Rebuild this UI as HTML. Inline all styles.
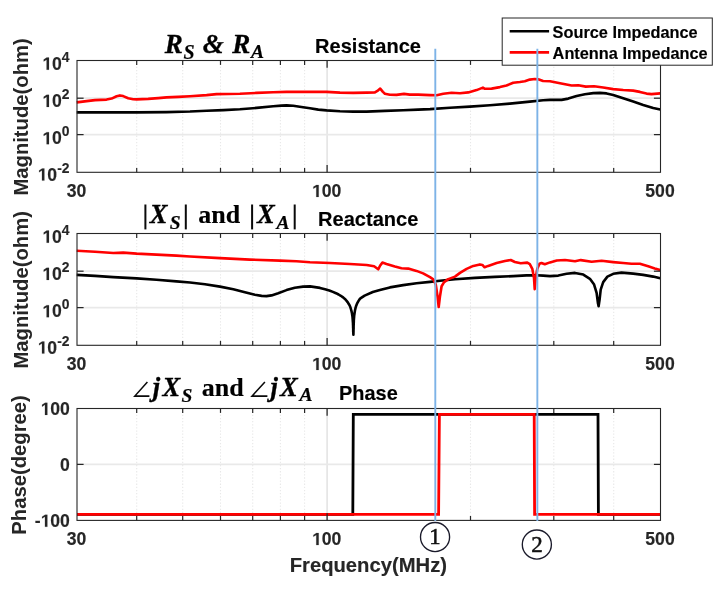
<!DOCTYPE html>
<html><head><meta charset="utf-8"><title>Impedance plot</title>
<style>
html,body{margin:0;padding:0;background:#fff;}
body{width:722px;height:589px;overflow:hidden;font-family:"Liberation Sans",sans-serif;}
svg{display:block;position:absolute;left:0;top:0;will-change:transform;}
text{font-family:"Liberation Sans",sans-serif;font-weight:bold;fill:#262626;stroke:#262626;stroke-width:0.15px;}
.ser{font-family:"Liberation Serif",serif;font-weight:bold;font-style:italic;fill:#000;}
.serb{font-family:"Liberation Serif",serif;font-weight:bold;font-style:normal;fill:#000;}
.num{font-family:"Liberation Serif",serif;font-weight:normal;fill:#111;stroke:#111;}
.ttl{fill:#000;stroke:#000;}
</style></head><body>
<svg width="722" height="589" viewBox="0 0 722 589">
<rect width="722" height="589" fill="#fff"/>

<line x1="136.7" y1="60.5" x2="136.7" y2="172.3" stroke="#e8e8e8" stroke-width="1.1" stroke-dasharray="1.3 1.83"/>
<line x1="182.7" y1="60.5" x2="182.7" y2="172.3" stroke="#e8e8e8" stroke-width="1.1" stroke-dasharray="1.3 1.83"/>
<line x1="220.5" y1="60.5" x2="220.5" y2="172.3" stroke="#e8e8e8" stroke-width="1.1" stroke-dasharray="1.3 1.83"/>
<line x1="252.7" y1="60.5" x2="252.7" y2="172.3" stroke="#e8e8e8" stroke-width="1.1" stroke-dasharray="1.3 1.83"/>
<line x1="280.4" y1="60.5" x2="280.4" y2="172.3" stroke="#e8e8e8" stroke-width="1.1" stroke-dasharray="1.3 1.83"/>
<line x1="304.6" y1="60.5" x2="304.6" y2="172.3" stroke="#e8e8e8" stroke-width="1.1" stroke-dasharray="1.3 1.83"/>
<line x1="470.5" y1="60.5" x2="470.5" y2="172.3" stroke="#e8e8e8" stroke-width="1.1" stroke-dasharray="1.3 1.83"/>
<line x1="553.8" y1="60.5" x2="553.8" y2="172.3" stroke="#e8e8e8" stroke-width="1.1" stroke-dasharray="1.3 1.83"/>
<line x1="613.7" y1="60.5" x2="613.7" y2="172.3" stroke="#e8e8e8" stroke-width="1.1" stroke-dasharray="1.3 1.83"/>
<line x1="327.1" y1="60.5" x2="327.1" y2="172.3" stroke="#e4e4e4" stroke-width="1.6"/>
<line x1="77.0" y1="98.2" x2="660.5" y2="98.2" stroke="#e9e9e9" stroke-width="1.7"/>
<line x1="77.0" y1="134.6" x2="660.5" y2="134.6" stroke="#e9e9e9" stroke-width="1.7"/>
<line x1="136.7" y1="233.5" x2="136.7" y2="345.3" stroke="#e8e8e8" stroke-width="1.1" stroke-dasharray="1.3 1.83"/>
<line x1="182.7" y1="233.5" x2="182.7" y2="345.3" stroke="#e8e8e8" stroke-width="1.1" stroke-dasharray="1.3 1.83"/>
<line x1="220.5" y1="233.5" x2="220.5" y2="345.3" stroke="#e8e8e8" stroke-width="1.1" stroke-dasharray="1.3 1.83"/>
<line x1="252.7" y1="233.5" x2="252.7" y2="345.3" stroke="#e8e8e8" stroke-width="1.1" stroke-dasharray="1.3 1.83"/>
<line x1="280.4" y1="233.5" x2="280.4" y2="345.3" stroke="#e8e8e8" stroke-width="1.1" stroke-dasharray="1.3 1.83"/>
<line x1="304.6" y1="233.5" x2="304.6" y2="345.3" stroke="#e8e8e8" stroke-width="1.1" stroke-dasharray="1.3 1.83"/>
<line x1="470.5" y1="233.5" x2="470.5" y2="345.3" stroke="#e8e8e8" stroke-width="1.1" stroke-dasharray="1.3 1.83"/>
<line x1="553.8" y1="233.5" x2="553.8" y2="345.3" stroke="#e8e8e8" stroke-width="1.1" stroke-dasharray="1.3 1.83"/>
<line x1="613.7" y1="233.5" x2="613.7" y2="345.3" stroke="#e8e8e8" stroke-width="1.1" stroke-dasharray="1.3 1.83"/>
<line x1="327.1" y1="233.5" x2="327.1" y2="345.3" stroke="#e4e4e4" stroke-width="1.6"/>
<line x1="77.0" y1="271.2" x2="660.5" y2="271.2" stroke="#e9e9e9" stroke-width="1.7"/>
<line x1="77.0" y1="307.6" x2="660.5" y2="307.6" stroke="#e9e9e9" stroke-width="1.7"/>
<line x1="136.7" y1="408.5" x2="136.7" y2="520.4" stroke="#e8e8e8" stroke-width="1.1" stroke-dasharray="1.3 1.83"/>
<line x1="182.7" y1="408.5" x2="182.7" y2="520.4" stroke="#e8e8e8" stroke-width="1.1" stroke-dasharray="1.3 1.83"/>
<line x1="220.5" y1="408.5" x2="220.5" y2="520.4" stroke="#e8e8e8" stroke-width="1.1" stroke-dasharray="1.3 1.83"/>
<line x1="252.7" y1="408.5" x2="252.7" y2="520.4" stroke="#e8e8e8" stroke-width="1.1" stroke-dasharray="1.3 1.83"/>
<line x1="280.4" y1="408.5" x2="280.4" y2="520.4" stroke="#e8e8e8" stroke-width="1.1" stroke-dasharray="1.3 1.83"/>
<line x1="304.6" y1="408.5" x2="304.6" y2="520.4" stroke="#e8e8e8" stroke-width="1.1" stroke-dasharray="1.3 1.83"/>
<line x1="470.5" y1="408.5" x2="470.5" y2="520.4" stroke="#e8e8e8" stroke-width="1.1" stroke-dasharray="1.3 1.83"/>
<line x1="553.8" y1="408.5" x2="553.8" y2="520.4" stroke="#e8e8e8" stroke-width="1.1" stroke-dasharray="1.3 1.83"/>
<line x1="613.7" y1="408.5" x2="613.7" y2="520.4" stroke="#e8e8e8" stroke-width="1.1" stroke-dasharray="1.3 1.83"/>
<line x1="327.1" y1="408.5" x2="327.1" y2="520.4" stroke="#e4e4e4" stroke-width="1.6"/>
<line x1="77.0" y1="464.4" x2="660.5" y2="464.4" stroke="#e9e9e9" stroke-width="1.7"/>
<polyline points="76.7,112.4 136.6,112.4 166.5,112.1 190.0,111.5 206.6,110.7 223.3,110.1 239.9,109.3 256.6,107.9 273.2,106.3 281.5,105.6 286.5,105.4 293.2,105.8 303.1,107.3 310.0,108.3 318.3,109.6 326.6,110.4 340.0,111.2 353.3,111.6 366.6,111.6 384.9,110.9 403.2,110.2 418.1,109.6 430.0,109.1 450.0,107.8 469.9,106.6 489.9,105.3 509.9,103.6 529.8,101.6 543.1,100.3 550.0,99.9 561.6,99.9 568.3,98.6 576.6,96.1 584.9,94.3 593.3,93.1 599.9,92.9 606.6,93.4 613.2,94.9 623.2,98.3 633.2,101.6 643.2,104.9 653.2,107.9 660.2,109.4" fill="none" stroke="#000000" stroke-width="2.6" stroke-linejoin="round" stroke-linecap="butt"/>
<polyline points="76.7,102.4 86.6,101.1 95.0,100.1 106.6,99.6 111.6,98.6 116.6,96.3 119.9,95.4 123.2,96.1 128.2,98.3 133.2,99.3 136.6,99.4 148.2,98.9 158.2,98.1 166.5,97.4 178.2,96.9 190.0,96.3 206.6,95.1 216.6,94.1 239.9,93.8 256.6,92.9 273.2,92.3 286.5,91.9 298.2,91.9 310.0,91.9 326.6,91.9 340.0,92.6 353.3,92.9 366.6,92.6 374.9,92.4 377.4,90.9 380.2,88.6 382.9,91.9 384.9,93.8 389.9,94.8 396.5,94.9 404.0,93.9 409.8,94.6 418.1,94.6 430.0,95.1 436.7,95.3 443.3,93.8 451.6,92.8 460.0,93.3 468.3,92.4 476.6,90.1 482.9,87.6 484.9,88.8 491.6,88.6 499.9,87.1 506.5,85.5 513.2,82.8 519.9,82.0 524.8,81.3 529.8,79.6 534.8,79.0 538.2,79.3 543.1,81.0 550.0,81.3 560.0,83.3 571.6,85.5 578.3,85.3 585.8,86.6 594.1,86.3 603.2,87.5 613.2,89.1 623.2,90.0 633.2,90.6 639.9,91.9 646.5,93.6 651.5,94.1 660.2,93.4" fill="none" stroke="#ff0000" stroke-width="2.6" stroke-linejoin="round" stroke-linecap="butt"/>
<polyline points="76.7,274.9 95.0,275.9 113.3,277.1 136.6,278.4 156.5,279.8 176.5,281.4 190.0,282.5 205.0,284.2 220.0,286.6 233.3,289.2 244.9,292.2 254.9,294.7 261.6,295.9 266.5,296.1 271.5,295.4 278.2,293.2 286.5,290.1 294.8,287.7 303.1,286.6 310.0,286.4 320.0,287.9 325.0,289.2 329.3,290.5 332.9,291.9 336.0,293.2 338.6,294.5 340.8,295.8 342.7,297.1 344.3,298.4 345.7,299.7 346.8,301.1 347.8,302.4 348.6,303.7 349.4,305.0 350.0,306.3 350.5,307.6 350.9,309.0 351.3,310.3 351.6,311.6 351.9,312.9 352.1,314.2 352.3,315.5 352.5,316.8 352.6,318.2 352.7,319.5 352.8,320.8 352.9,322.1 353.0,323.4 353.0,324.7 353.1,326.0 353.1,327.4 353.2,328.7 353.2,330.0 353.2,331.3 353.3,332.6 353.4,334.8 353.5,331.3 353.5,330.0 353.6,328.7 353.6,327.3 353.6,326.0 353.7,324.7 353.7,323.4 353.8,322.1 353.8,320.8 353.9,319.5 354.0,318.1 354.1,316.8 354.2,315.5 354.4,314.2 354.6,312.9 354.8,311.6 355.0,310.3 355.3,308.9 355.6,307.6 356.0,306.3 356.5,305.0 357.0,303.7 357.7,302.4 358.4,301.1 359.3,299.7 360.4,298.4 364.6,295.6 372.8,292.0 379.9,290.0 389.9,287.4 403.2,285.1 416.5,283.2 430.0,281.9 440.0,280.8 455.0,279.3 474.9,277.9 494.9,276.9 513.2,276.1 526.5,275.4 536.5,275.3 543.1,275.6 550.0,276.1 558.3,275.6 566.6,273.8 575.0,272.9 583.3,274.6 589.9,278.8 594.1,284.6 596.6,292.9 597.9,302.9 598.6,306.2 599.6,299.6 600.7,289.6 603.2,282.1 607.4,276.6 613.2,273.8 621.5,272.6 633.2,273.6 643.2,274.9 653.2,276.6 660.2,278.3" fill="none" stroke="#000000" stroke-width="2.6" stroke-linejoin="round" stroke-linecap="butt"/>
<polyline points="76.7,250.8 95.0,251.8 113.3,253.0 123.2,252.6 136.6,253.6 156.5,254.6 176.5,255.6 190.0,256.5 220.0,258.1 249.9,259.6 279.9,260.6 296.5,261.3 310.0,262.2 330.0,263.0 349.9,264.0 366.6,265.0 374.1,266.3 378.2,269.3 380.2,265.5 382.4,262.6 386.5,264.0 394.9,266.6 401.5,268.3 408.2,268.6 416.5,270.9 423.1,273.4 430.0,277.2 433.3,279.3 435.8,284.6 437.5,296.2 438.7,307.0 440.0,296.2 441.6,286.2 444.1,282.1 448.3,279.1 455.0,276.6 460.0,272.9 466.6,268.9 473.3,265.9 479.9,264.4 482.4,264.9 484.6,267.3 488.2,265.9 496.6,263.1 504.9,261.0 510.7,260.0 514.9,262.0 520.7,263.3 527.3,262.6 529.8,264.1 532.3,268.8 534.0,277.9 534.7,289.2 535.7,277.9 537.3,268.8 539.5,263.8 541.5,263.0 544.8,264.3 550.0,262.4 556.7,260.5 565.0,260.0 575.0,261.3 580.8,260.1 591.6,261.8 601.6,260.8 613.2,262.1 623.2,263.0 631.5,263.8 639.9,263.8 648.2,266.3 654.8,268.4 660.2,269.9" fill="none" stroke="#ff0000" stroke-width="2.6" stroke-linejoin="round" stroke-linecap="butt"/>
<polyline points="77.0,514.4 352.8,514.4 353.3,414.4 598.0,414.4 598.4,514.4 660.5,514.4" fill="none" stroke="#000000" stroke-width="2.8" stroke-linejoin="miter"/>
<polyline points="77.0,514.4 438.6,514.4 439.4,414.4 534.2,414.4 534.6,514.4 660.5,514.4" fill="none" stroke="#ff0000" stroke-width="2.8" stroke-linejoin="miter"/>
<rect x="77.0" y="60.5" width="583.5" height="111.8" fill="none" stroke="#262626" stroke-width="1.1"/>
<line x1="136.7" y1="60.5" x2="136.7" y2="64.9" stroke="#262626" stroke-width="1.2"/>
<line x1="136.7" y1="172.3" x2="136.7" y2="167.9" stroke="#262626" stroke-width="1.2"/>
<line x1="182.7" y1="60.5" x2="182.7" y2="64.9" stroke="#262626" stroke-width="1.2"/>
<line x1="182.7" y1="172.3" x2="182.7" y2="167.9" stroke="#262626" stroke-width="1.2"/>
<line x1="220.5" y1="60.5" x2="220.5" y2="64.9" stroke="#262626" stroke-width="1.2"/>
<line x1="220.5" y1="172.3" x2="220.5" y2="167.9" stroke="#262626" stroke-width="1.2"/>
<line x1="252.7" y1="60.5" x2="252.7" y2="64.9" stroke="#262626" stroke-width="1.2"/>
<line x1="252.7" y1="172.3" x2="252.7" y2="167.9" stroke="#262626" stroke-width="1.2"/>
<line x1="280.4" y1="60.5" x2="280.4" y2="64.9" stroke="#262626" stroke-width="1.2"/>
<line x1="280.4" y1="172.3" x2="280.4" y2="167.9" stroke="#262626" stroke-width="1.2"/>
<line x1="304.6" y1="60.5" x2="304.6" y2="64.9" stroke="#262626" stroke-width="1.2"/>
<line x1="304.6" y1="172.3" x2="304.6" y2="167.9" stroke="#262626" stroke-width="1.2"/>
<line x1="470.5" y1="60.5" x2="470.5" y2="64.9" stroke="#262626" stroke-width="1.2"/>
<line x1="470.5" y1="172.3" x2="470.5" y2="167.9" stroke="#262626" stroke-width="1.2"/>
<line x1="553.8" y1="60.5" x2="553.8" y2="64.9" stroke="#262626" stroke-width="1.2"/>
<line x1="553.8" y1="172.3" x2="553.8" y2="167.9" stroke="#262626" stroke-width="1.2"/>
<line x1="613.7" y1="60.5" x2="613.7" y2="64.9" stroke="#262626" stroke-width="1.2"/>
<line x1="613.7" y1="172.3" x2="613.7" y2="167.9" stroke="#262626" stroke-width="1.2"/>
<line x1="327.1" y1="60.5" x2="327.1" y2="67.7" stroke="#262626" stroke-width="1.25"/>
<line x1="327.1" y1="172.3" x2="327.1" y2="165.1" stroke="#262626" stroke-width="1.25"/>
<line x1="77.0" y1="98.2" x2="83.6" y2="98.2" stroke="#262626" stroke-width="1.25"/>
<line x1="660.5" y1="98.2" x2="653.9" y2="98.2" stroke="#262626" stroke-width="1.25"/>
<line x1="77.0" y1="134.6" x2="83.6" y2="134.6" stroke="#262626" stroke-width="1.25"/>
<line x1="660.5" y1="134.6" x2="653.9" y2="134.6" stroke="#262626" stroke-width="1.25"/>
<rect x="77.0" y="233.5" width="583.5" height="111.8" fill="none" stroke="#262626" stroke-width="1.1"/>
<line x1="136.7" y1="233.5" x2="136.7" y2="237.9" stroke="#262626" stroke-width="1.2"/>
<line x1="136.7" y1="345.3" x2="136.7" y2="340.9" stroke="#262626" stroke-width="1.2"/>
<line x1="182.7" y1="233.5" x2="182.7" y2="237.9" stroke="#262626" stroke-width="1.2"/>
<line x1="182.7" y1="345.3" x2="182.7" y2="340.9" stroke="#262626" stroke-width="1.2"/>
<line x1="220.5" y1="233.5" x2="220.5" y2="237.9" stroke="#262626" stroke-width="1.2"/>
<line x1="220.5" y1="345.3" x2="220.5" y2="340.9" stroke="#262626" stroke-width="1.2"/>
<line x1="252.7" y1="233.5" x2="252.7" y2="237.9" stroke="#262626" stroke-width="1.2"/>
<line x1="252.7" y1="345.3" x2="252.7" y2="340.9" stroke="#262626" stroke-width="1.2"/>
<line x1="280.4" y1="233.5" x2="280.4" y2="237.9" stroke="#262626" stroke-width="1.2"/>
<line x1="280.4" y1="345.3" x2="280.4" y2="340.9" stroke="#262626" stroke-width="1.2"/>
<line x1="304.6" y1="233.5" x2="304.6" y2="237.9" stroke="#262626" stroke-width="1.2"/>
<line x1="304.6" y1="345.3" x2="304.6" y2="340.9" stroke="#262626" stroke-width="1.2"/>
<line x1="470.5" y1="233.5" x2="470.5" y2="237.9" stroke="#262626" stroke-width="1.2"/>
<line x1="470.5" y1="345.3" x2="470.5" y2="340.9" stroke="#262626" stroke-width="1.2"/>
<line x1="553.8" y1="233.5" x2="553.8" y2="237.9" stroke="#262626" stroke-width="1.2"/>
<line x1="553.8" y1="345.3" x2="553.8" y2="340.9" stroke="#262626" stroke-width="1.2"/>
<line x1="613.7" y1="233.5" x2="613.7" y2="237.9" stroke="#262626" stroke-width="1.2"/>
<line x1="613.7" y1="345.3" x2="613.7" y2="340.9" stroke="#262626" stroke-width="1.2"/>
<line x1="327.1" y1="233.5" x2="327.1" y2="240.7" stroke="#262626" stroke-width="1.25"/>
<line x1="327.1" y1="345.3" x2="327.1" y2="338.1" stroke="#262626" stroke-width="1.25"/>
<line x1="77.0" y1="271.2" x2="83.6" y2="271.2" stroke="#262626" stroke-width="1.25"/>
<line x1="660.5" y1="271.2" x2="653.9" y2="271.2" stroke="#262626" stroke-width="1.25"/>
<line x1="77.0" y1="307.6" x2="83.6" y2="307.6" stroke="#262626" stroke-width="1.25"/>
<line x1="660.5" y1="307.6" x2="653.9" y2="307.6" stroke="#262626" stroke-width="1.25"/>
<rect x="77.0" y="408.5" width="583.5" height="111.9" fill="none" stroke="#262626" stroke-width="1.1"/>
<line x1="136.7" y1="408.5" x2="136.7" y2="412.9" stroke="#262626" stroke-width="1.2"/>
<line x1="136.7" y1="520.4" x2="136.7" y2="516.0" stroke="#262626" stroke-width="1.2"/>
<line x1="182.7" y1="408.5" x2="182.7" y2="412.9" stroke="#262626" stroke-width="1.2"/>
<line x1="182.7" y1="520.4" x2="182.7" y2="516.0" stroke="#262626" stroke-width="1.2"/>
<line x1="220.5" y1="408.5" x2="220.5" y2="412.9" stroke="#262626" stroke-width="1.2"/>
<line x1="220.5" y1="520.4" x2="220.5" y2="516.0" stroke="#262626" stroke-width="1.2"/>
<line x1="252.7" y1="408.5" x2="252.7" y2="412.9" stroke="#262626" stroke-width="1.2"/>
<line x1="252.7" y1="520.4" x2="252.7" y2="516.0" stroke="#262626" stroke-width="1.2"/>
<line x1="280.4" y1="408.5" x2="280.4" y2="412.9" stroke="#262626" stroke-width="1.2"/>
<line x1="280.4" y1="520.4" x2="280.4" y2="516.0" stroke="#262626" stroke-width="1.2"/>
<line x1="304.6" y1="408.5" x2="304.6" y2="412.9" stroke="#262626" stroke-width="1.2"/>
<line x1="304.6" y1="520.4" x2="304.6" y2="516.0" stroke="#262626" stroke-width="1.2"/>
<line x1="470.5" y1="408.5" x2="470.5" y2="412.9" stroke="#262626" stroke-width="1.2"/>
<line x1="470.5" y1="520.4" x2="470.5" y2="516.0" stroke="#262626" stroke-width="1.2"/>
<line x1="553.8" y1="408.5" x2="553.8" y2="412.9" stroke="#262626" stroke-width="1.2"/>
<line x1="553.8" y1="520.4" x2="553.8" y2="516.0" stroke="#262626" stroke-width="1.2"/>
<line x1="613.7" y1="408.5" x2="613.7" y2="412.9" stroke="#262626" stroke-width="1.2"/>
<line x1="613.7" y1="520.4" x2="613.7" y2="516.0" stroke="#262626" stroke-width="1.2"/>
<line x1="327.1" y1="408.5" x2="327.1" y2="415.7" stroke="#262626" stroke-width="1.25"/>
<line x1="327.1" y1="520.4" x2="327.1" y2="513.2" stroke="#262626" stroke-width="1.25"/>
<line x1="77.0" y1="464.4" x2="83.6" y2="464.4" stroke="#262626" stroke-width="1.25"/>
<line x1="660.5" y1="464.4" x2="653.9" y2="464.4" stroke="#262626" stroke-width="1.25"/>
<path transform="translate(42.49,69.70) scale(0.00859,-0.00859)" d="M478 0V1170L140 959V1180L493 1409H759V0Z" fill="#262626" stroke="#262626" stroke-width="17.5"/><text x="51.98" y="69.70" font-size="17.6" style="fill:#262626;stroke:#262626">0</text>
<text x="61.77" y="61.80" font-size="13.9" style="fill:#262626;stroke:#262626">4</text>
<path transform="translate(42.49,106.97) scale(0.00859,-0.00859)" d="M478 0V1170L140 959V1180L493 1409H759V0Z" fill="#262626" stroke="#262626" stroke-width="17.5"/><text x="51.98" y="106.97" font-size="17.6" style="fill:#262626;stroke:#262626">0</text>
<text x="61.77" y="99.07" font-size="13.9" style="fill:#262626;stroke:#262626">2</text>
<path transform="translate(42.49,144.23) scale(0.00859,-0.00859)" d="M478 0V1170L140 959V1180L493 1409H759V0Z" fill="#262626" stroke="#262626" stroke-width="17.5"/><text x="51.98" y="144.23" font-size="17.6" style="fill:#262626;stroke:#262626">0</text>
<text x="61.77" y="136.33" font-size="13.9" style="fill:#262626;stroke:#262626">0</text>
<path transform="translate(37.86,180.60) scale(0.00859,-0.00859)" d="M478 0V1170L140 959V1180L493 1409H759V0Z" fill="#262626" stroke="#262626" stroke-width="17.5"/><text x="47.35" y="180.60" font-size="17.6" style="fill:#262626;stroke:#262626">0</text>
<text x="57.14" y="172.70" font-size="13.9" style="fill:#262626;stroke:#262626">-2</text>
<path transform="translate(42.49,242.70) scale(0.00859,-0.00859)" d="M478 0V1170L140 959V1180L493 1409H759V0Z" fill="#262626" stroke="#262626" stroke-width="17.5"/><text x="51.98" y="242.70" font-size="17.6" style="fill:#262626;stroke:#262626">0</text>
<text x="61.77" y="234.80" font-size="13.9" style="fill:#262626;stroke:#262626">4</text>
<path transform="translate(42.49,279.97) scale(0.00859,-0.00859)" d="M478 0V1170L140 959V1180L493 1409H759V0Z" fill="#262626" stroke="#262626" stroke-width="17.5"/><text x="51.98" y="279.97" font-size="17.6" style="fill:#262626;stroke:#262626">0</text>
<text x="61.77" y="272.07" font-size="13.9" style="fill:#262626;stroke:#262626">2</text>
<path transform="translate(42.49,317.23) scale(0.00859,-0.00859)" d="M478 0V1170L140 959V1180L493 1409H759V0Z" fill="#262626" stroke="#262626" stroke-width="17.5"/><text x="51.98" y="317.23" font-size="17.6" style="fill:#262626;stroke:#262626">0</text>
<text x="61.77" y="309.33" font-size="13.9" style="fill:#262626;stroke:#262626">0</text>
<path transform="translate(37.86,353.60) scale(0.00859,-0.00859)" d="M478 0V1170L140 959V1180L493 1409H759V0Z" fill="#262626" stroke="#262626" stroke-width="17.5"/><text x="47.35" y="353.60" font-size="17.6" style="fill:#262626;stroke:#262626">0</text>
<text x="57.14" y="345.70" font-size="13.9" style="fill:#262626;stroke:#262626">-2</text>
<path transform="translate(40.84,414.90) scale(0.00859,-0.00859)" d="M478 0V1170L140 959V1180L493 1409H759V0Z" fill="#262626" stroke="#262626" stroke-width="17.5"/><text x="50.32" y="414.90" font-size="17.6" style="fill:#262626;stroke:#262626">00</text>
<text x="60.11" y="470.85" font-size="17.6" style="fill:#262626;stroke:#262626">0</text>
<text x="34.67" y="526.80" font-size="17.6" style="fill:#262626;stroke:#262626">-</text><path transform="translate(40.84,526.80) scale(0.00859,-0.00859)" d="M478 0V1170L140 959V1180L493 1409H759V0Z" fill="#262626" stroke="#262626" stroke-width="17.5"/><text x="50.32" y="526.80" font-size="17.6" style="fill:#262626;stroke:#262626">00</text>
<text x="66.71" y="197.00" font-size="17.6" style="fill:#262626;stroke:#262626">30</text>
<path transform="translate(312.17,197.00) scale(0.00859,-0.00859)" d="M478 0V1170L140 959V1180L493 1409H759V0Z" fill="#262626" stroke="#262626" stroke-width="17.5"/><text x="321.66" y="197.00" font-size="17.6" style="fill:#262626;stroke:#262626">00</text>
<text x="645.32" y="197.00" font-size="17.6" style="fill:#262626;stroke:#262626">500</text>
<text x="66.71" y="370.00" font-size="17.6" style="fill:#262626;stroke:#262626">30</text>
<path transform="translate(312.17,370.00) scale(0.00859,-0.00859)" d="M478 0V1170L140 959V1180L493 1409H759V0Z" fill="#262626" stroke="#262626" stroke-width="17.5"/><text x="321.66" y="370.00" font-size="17.6" style="fill:#262626;stroke:#262626">00</text>
<text x="645.32" y="370.00" font-size="17.6" style="fill:#262626;stroke:#262626">500</text>
<text x="66.71" y="545.10" font-size="17.6" style="fill:#262626;stroke:#262626">30</text>
<path transform="translate(312.17,545.10) scale(0.00859,-0.00859)" d="M478 0V1170L140 959V1180L493 1409H759V0Z" fill="#262626" stroke="#262626" stroke-width="17.5"/><text x="321.66" y="545.10" font-size="17.6" style="fill:#262626;stroke:#262626">00</text>
<text x="645.32" y="545.10" font-size="17.6" style="fill:#262626;stroke:#262626">500</text>
<text transform="translate(28.3,116.9) rotate(-90) scale(1,1.03)" text-anchor="middle" font-size="20.25" style="stroke-width:0">Magnitude(ohm)</text>
<text transform="translate(28.3,289.8) rotate(-90) scale(1,1.03)" text-anchor="middle" font-size="20.25" style="stroke-width:0">Magnitude(ohm)</text>
<text transform="translate(26.0,464.9) rotate(-90) scale(1,1.03)" text-anchor="middle" font-size="20.25" style="stroke-width:0">Phase(degree)</text>
<text transform="translate(368.35,572.0) scale(1,1.035)" text-anchor="middle" font-size="20.25">Frequency(MHz)</text>
<text class="ttl" transform="translate(315.1,52.9) scale(1,1.03)" font-size="20.05">Resistance</text>
<text class="ttl" transform="translate(318.1,226.2) scale(1,1.03)" font-size="20.05">Reactance</text>
<text class="ttl" transform="translate(339,399.9) scale(1,1.03)" font-size="19.95">Phase</text>
<text x="164.7" y="53.4" style="font-family:Liberation Serif;font-weight:bold;font-style:italic;fill:#000;stroke:#000;stroke-width:0.35" font-size="27">R</text>
<text x="183.5" y="58.6" style="font-family:Liberation Serif;font-weight:bold;font-style:italic;fill:#000;stroke:#000;stroke-width:0.2" font-size="20">S</text>
<text x="202.7" y="53.4" style="font-family:Liberation Serif;font-weight:bold;font-style:italic;fill:#000;stroke:#000;stroke-width:0.35" font-size="27">&amp;</text>
<text x="232.2" y="53.4" style="font-family:Liberation Serif;font-weight:bold;font-style:italic;fill:#000;stroke:#000;stroke-width:0.35" font-size="27">R</text>
<text x="251.0" y="58.4" style="font-family:Liberation Serif;font-weight:bold;font-style:italic;fill:#000;stroke:#000;stroke-width:0.2" font-size="19.5">A</text>
<text x="149.7" y="222.9" style="font-family:Liberation Serif;font-weight:bold;font-style:italic;fill:#000;stroke:#000;stroke-width:0.35" font-size="26.5">X</text>
<text x="169.7" y="228.9" style="font-family:Liberation Serif;font-weight:bold;font-style:italic;fill:#000;stroke:#000;stroke-width:0.2" font-size="19.5">S</text>
<text x="198.2" y="222.9" style="font-family:Liberation Serif;font-weight:bold;fill:#000;stroke:#000;stroke-width:0.15" font-size="26">and</text>
<text x="256.9" y="222.9" style="font-family:Liberation Serif;font-weight:bold;font-style:italic;fill:#000;stroke:#000;stroke-width:0.35" font-size="26.5">X</text>
<text x="276.5" y="228.9" style="font-family:Liberation Serif;font-weight:bold;font-style:italic;fill:#000;stroke:#000;stroke-width:0.2" font-size="19.5">A</text>
<text x="152.7" y="396.4" style="font-family:Liberation Serif;font-weight:bold;font-style:italic;fill:#000;stroke:#000;stroke-width:0.35" font-size="26.5">j</text>
<text x="162.4" y="396.4" style="font-family:Liberation Serif;font-weight:bold;font-style:italic;fill:#000;stroke:#000;stroke-width:0.35" font-size="26.5">X</text>
<text x="181.6" y="401.9" style="font-family:Liberation Serif;font-weight:bold;font-style:italic;fill:#000;stroke:#000;stroke-width:0.2" font-size="19.5">S</text>
<text x="201.7" y="396.4" style="font-family:Liberation Serif;font-weight:bold;fill:#000;stroke:#000;stroke-width:0.15" font-size="26">and</text>
<text x="270.4" y="396.4" style="font-family:Liberation Serif;font-weight:bold;font-style:italic;fill:#000;stroke:#000;stroke-width:0.35" font-size="26.5">j</text>
<text x="280.1" y="396.4" style="font-family:Liberation Serif;font-weight:bold;font-style:italic;fill:#000;stroke:#000;stroke-width:0.35" font-size="26.5">X</text>
<text x="299.6" y="401.4" style="font-family:Liberation Serif;font-weight:bold;font-style:italic;fill:#000;stroke:#000;stroke-width:0.2" font-size="19.5">A</text>
<rect x="144.4" y="204.5" width="2.0" height="24.9" fill="#0a0a0a"/>
<rect x="184.8" y="204.5" width="2.0" height="24.9" fill="#0a0a0a"/>
<rect x="251.1" y="204.5" width="2.0" height="24.9" fill="#0a0a0a"/>
<rect x="293.7" y="204.5" width="2.0" height="24.9" fill="#0a0a0a"/>
<polyline points="147.4,382 134.8,396.1 149.4,396.1" fill="none" stroke="#0a0a0a" stroke-width="1.55" stroke-linejoin="miter"/>
<polyline points="264.9,382 252.0,396.1 267.4,396.1" fill="none" stroke="#0a0a0a" stroke-width="1.55" stroke-linejoin="miter"/>
<rect x="502.2" y="18.0" width="210.1" height="47.2" fill="#fff" stroke="#262626" stroke-width="1"/>
<line x1="509.7" y1="31.2" x2="549.1" y2="31.2" stroke="#000" stroke-width="2.6"/>
<line x1="509.7" y1="52.4" x2="549.1" y2="52.4" stroke="#f00" stroke-width="2.6"/>
<text class="ttl" transform="translate(552.6,37.5) scale(1,1.04)" font-size="16.33">Source Impedance</text>
<text class="ttl" transform="translate(552.6,59.0) scale(1,1.04)" font-size="16.33">Antenna Impedance</text>
<line x1="435.3" y1="48.7" x2="435.3" y2="521" stroke="#7db3e7" stroke-width="1.9"/>
<line x1="537.35" y1="48.7" x2="537.35" y2="521" stroke="#7db3e7" stroke-width="1.9"/>
<circle cx="435.05" cy="537.0" r="14.55" fill="none" stroke="#1a1a2a" stroke-width="1.35"/>
<text class="num" x="434.9" y="544.45" text-anchor="middle" font-size="22.8" style="stroke-width:0.55px">1</text>
<circle cx="536.85" cy="544.55" r="14.55" fill="none" stroke="#1a1a2a" stroke-width="1.35"/>
<text class="num" x="537.0" y="551.9" text-anchor="middle" font-size="23" style="stroke-width:0.55px">2</text>
</svg></body></html>
